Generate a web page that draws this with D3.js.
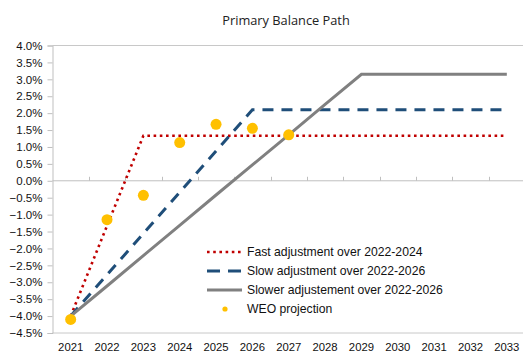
<!DOCTYPE html>
<html>
<head>
<meta charset="utf-8">
<script src="https://cdn.jsdelivr.net/npm/d3@7"></script>
<style>
  html, body { margin: 0; padding: 0; background: #fff; }
  svg { display: block; }
</style>
</head>
<body>
<div id="chart"></div>
<script>
// Primary balance paths (% of GDP), 2021-2033
const years = ["2021","2022","2023","2024","2025","2026","2027","2028","2029","2030","2031","2032","2033"];
const fastAdjustment   = [-4.0, -1.33, 1.33, 1.33, 1.33, 1.33, 1.33, 1.33, 1.33, 1.33, 1.33, 1.33, 1.33];
const slowAdjustment   = [-4.0, -2.78, -1.56, -0.34, 0.88, 2.1, 2.1, 2.1, 2.1, 2.1, 2.1, 2.1, 2.1];
const slowerAdjustment = [-4.0, -3.11, -2.21, -1.32, -0.42, 0.47, 1.36, 2.26, 3.15, 3.15, 3.15, 3.15, 3.15];
const weoYears = ["2021","2022","2023","2024","2025","2026","2027"];
const weoProjection = [-4.1, -1.15, -0.43, 1.13, 1.67, 1.55, 1.36];
const yTicks = [4, 3.5, 3, 2.5, 2, 1.5, 1, 0.5, 0, -0.5, -1, -1.5, -2, -2.5, -3, -3.5, -4, -4.5];
const seriesNames = ["Fast adjustment over 2022-2024", "Slow adjustment over 2022-2026", "Slower adjustement over 2022-2026", "WEO projection"];

const W = 523, H = 355;
const svg = d3.select("#chart").append("svg").attr("width", W).attr("height", H);
const font = "'Liberation Sans', Arial, sans-serif";

const x = d3.scaleBand().domain(years).range([52.5, 525]).padding(0);
const y = d3.scaleLinear().domain([-4.5, 4]).range([333, 45.5]);
const cx = d => x(d) + x.bandwidth() / 2;

// title
svg.append("text").attr("x", 286).attr("y", 25).attr("text-anchor", "middle")
  .attr("font-family", "'Open Sans', sans-serif").attr("font-size", 12.8).attr("fill", "#222")
  .text("Primary Balance Path");

// plot frame: top and bottom edges
svg.append("line").attr("x1", 52.5).attr("x2", 523).attr("y1", y(4)).attr("y2", y(4)).attr("stroke", "#c8c8c8").attr("stroke-width", 1);
svg.append("line").attr("x1", 52.5).attr("x2", 523).attr("y1", y(-4.5)).attr("y2", y(-4.5)).attr("stroke", "#c8c8c8").attr("stroke-width", 1);

// vertical axis
const yAxis = d3.axisLeft(y).tickValues(yTicks).tickSize(5).tickPadding(5).tickFormat(d => d3.format(".1f")(d) + "%");
const gy = svg.append("g").attr("transform", "translate(52.5,0)").call(yAxis);
gy.selectAll("path.domain").attr("stroke", "#bfbfbf");
gy.selectAll(".tick line").attr("stroke", "#bfbfbf");
gy.selectAll(".tick text").attr("font-family", font).attr("font-size", 11.5).attr("fill", "#111");

// horizontal axis crossing at zero, tick marks between categories
const gx = svg.append("g").attr("transform", `translate(0,${y(0)})`);
gx.append("line").attr("x1", 52.5).attr("x2", 523).attr("stroke", "#bfbfbf");
gx.selectAll("line.tk").data(years.slice(1)).join("line").attr("class", "tk")
  .attr("x1", d => Math.round(x(d)) + 0.5).attr("x2", d => Math.round(x(d)) + 0.5)
  .attr("y1", 0).attr("y2", -4).attr("stroke", "#bfbfbf");

// category labels along the bottom
svg.append("g").selectAll("text").data(years).join("text")
  .attr("x", d => cx(d)).attr("y", 351).attr("text-anchor", "middle")
  .attr("font-family", font).attr("font-size", 11.3).attr("fill", "#111").text(d => d);

const line = d3.line().x(d => cx(d[0])).y(d => y(d[1]));
const styles = [
  { data: fastAdjustment, color: "#c00000", width: 2.6, dash: "2.6,3.6" },
  { data: slowAdjustment, color: "#1f4e79", width: 3, dash: "11,8" },
  { data: slowerAdjustment, color: "#808080", width: 3, dash: null }
];
styles.forEach(s => {
  svg.append("path").datum(years.map((yr, i) => [yr, s.data[i]]))
    .attr("d", line).attr("fill", "none").attr("stroke", s.color)
    .attr("stroke-width", s.width).attr("stroke-dasharray", s.dash);
});

svg.append("g").selectAll("circle").data(weoYears.map((yr, i) => [yr, weoProjection[i]])).join("circle")
  .attr("cx", d => cx(d[0])).attr("cy", d => y(d[1])).attr("r", 5.5).attr("fill", "#ffc000");

// legend
const lg = svg.append("g");
const rowsY = [252, 271, 290, 309];
styles.forEach((s, i) => {
  lg.append("line").attr("x1", 207).attr("x2", 242).attr("y1", rowsY[i]).attr("y2", rowsY[i])
    .attr("stroke", s.color).attr("stroke-width", s.width)
    .attr("stroke-dasharray", i === 1 ? "13,8" : s.dash);
});
lg.append("circle").attr("cx", 225).attr("cy", rowsY[3]).attr("r", 2.6).attr("fill", "#ffc000");
lg.selectAll("text").data(seriesNames).join("text")
  .attr("x", 247).attr("y", (d, i) => rowsY[i] + 4.3)
  .attr("font-family", font).attr("font-size", 12.2).attr("fill", "#111").text(d => d);
</script>
</body>
</html>
